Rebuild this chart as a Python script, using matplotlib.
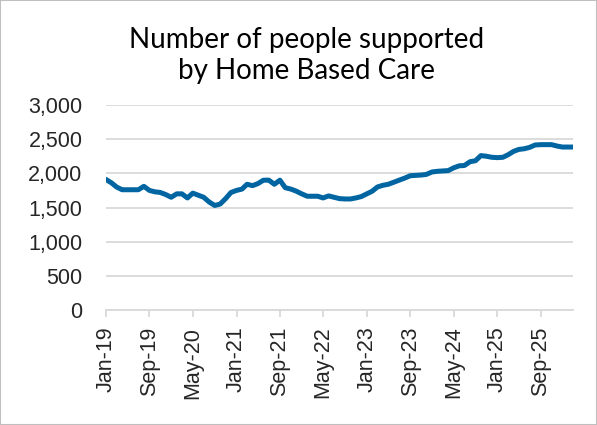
import pandas as pd
import matplotlib
matplotlib.use("Agg")
import matplotlib.pyplot as plt
import matplotlib.dates as mdates

# monthly counts, Jan-19 onwards
people = [1910, 1860, 1800, 1760, 1760, 1760, 1760, 1810, 1750, 1730,
          1720, 1690, 1650, 1700, 1700, 1640, 1710, 1680, 1650, 1580,
          1530, 1550, 1630, 1720, 1750, 1770, 1840, 1820, 1850, 1900,
          1900, 1840, 1900, 1790, 1770, 1740, 1700, 1665, 1665, 1665,
          1640, 1670, 1650, 1630, 1625, 1625, 1640, 1660, 1700, 1740,
          1800, 1825, 1840, 1870, 1900, 1930, 1965, 1970, 1975, 1985,
          2020, 2030, 2035, 2040, 2080, 2110, 2115, 2170, 2185, 2260,
          2250, 2235, 2230, 2235, 2270, 2320, 2350, 2360, 2380, 2415,
          2420, 2420, 2420, 2400, 2385, 2385, 2385]
dates = pd.date_range("2019-01-01", periods=len(people), freq="MS")
tick_dates = dates[::8]
y_ticks = [0, 500, 1000, 1500, 2000, 2500, 3000]
title_lines = ["Number of people supported", "by Home Based Care"]

fig = plt.figure(figsize=(5.97, 4.25), dpi=100)
fig.patches.append(plt.Rectangle((0, 0), 1, 1, transform=fig.transFigure,
                                 fill=False, edgecolor="#BFBFBF", linewidth=1.5))
ax = fig.add_axes([0.1776, 0.2706, 0.9598 - 0.1776, 0.7529 - 0.2706])

ax.plot(dates, people, color="#0065A1", linewidth=3.6, solid_capstyle="round",
        solid_joinstyle="round", zorder=3)

ax.set_ylim(0, 3000)
ax.set_yticks(y_ticks)
ax.set_yticklabels([f"{v:,}" for v in y_ticks])
ax.set_xlim(dates[0], dates[-1])
ax.set_xticks(tick_dates)
ax.xaxis.set_major_formatter(mdates.DateFormatter("%b-%y"))
plt.setp(ax.get_xticklabels(), rotation=90)

ax.grid(axis="y", color="#D9D9D9", linewidth=1.3)
ax.set_axisbelow(True)
for s in ["top", "right", "left"]:
    ax.spines[s].set_visible(False)
ax.spines["bottom"].set_color("#D9D9D9")
ax.spines["bottom"].set_linewidth(1.3)
ax.tick_params(axis="y", length=0, pad=17, labelsize=15.5, labelcolor="#262626")
ax.tick_params(axis="x", length=5, width=1.3, color="#D9D9D9", pad=7,
               labelsize=15.5, labelcolor="#262626")
for lab in ax.get_xticklabels() + ax.get_yticklabels():
    lab.set_fontfamily("Liberation Sans")

fig.text(0.514, 1 - 48 / 425, title_lines[0], ha="center", va="baseline",
         fontsize=20, family="Lato", color="black")
fig.text(0.514, 1 - 79 / 425, title_lines[1], ha="center", va="baseline",
         fontsize=20, family="Lato", color="black")

fig.savefig("out.png", dpi=100)
